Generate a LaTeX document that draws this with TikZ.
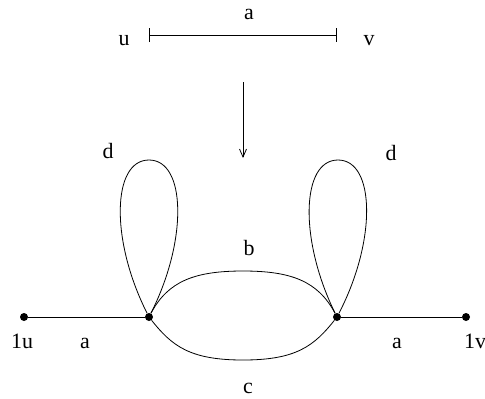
\documentclass[tikz,border=0pt]{standalone}
\usepackage{fontspec}
\setmainfont{Liberation Serif}
\usetikzlibrary{arrows.meta, positioning}

\begin{document}
\begin{tikzpicture}[x=1bp, y=-1bp,
        lbl/.style={anchor=base, inner sep=0pt, font=\fontsize{22}{26}\selectfont},
        vert/.style={circle, fill=black, inner sep=0pt, minimum size=8bp},
        edge/.style={line width=0.8bp},
        barend/.style={{Bar[width=14bp]}-{Bar[width=14bp]}, line width=0.8bp},
        arrow/.style={-{Straight Barb[length=8bp, width=7bp]}, line width=0.8bp}
    ]
        \useasboundingbox (0,0) rectangle (485,398);

        % Single edge (top)
        \coordinate (su) at (149, 35);
        \coordinate (sv) at (337, 35);
        \draw[barend] (su) -- (sv);
        \node[lbl] (lu) at (124, 45) {u};
        \node[lbl] (lv) at (369, 45) {v};
        \node[lbl] (ltop) at (249, 19) {a};

        % Map down
        \coordinate (arrs) at (243, 82);
        \coordinate (arre) at (243, 158);
        \draw[arrow] (arrs) -- (arre);

        % Vertices of the graph (bottom)
        \node[vert] (e1) at (24, 317) {};
        \node[vert] (vl) at (149, 317) {};
        \node[vert] (vr) at (337, 317) {};
        \node[vert] (e2) at (466, 317) {};
        \coordinate (tl) at (149, 160);
        \coordinate (tr) at (338, 160);

        % Straight edges
        \draw[edge] (e1) -- (vl);
        \draw[edge] (vr) -- (e2);

        % Double edge b and c
        \draw[edge] (vl) .. controls (168,281) and (195,271) .. (243,271)
                         .. controls (291,271) and (318,281) .. (vr);
        \draw[edge] (vl) .. controls (172,346) and (190,360) .. (243,360)
                         .. controls (296,360) and (314,346) .. (vr);

        % Loops d
        \draw[edge] (vl) .. controls (110,240) and (112,160) .. (tl)
                         .. controls (186,160) and (188,240) .. (vl);
        \draw[edge] (vr) .. controls (299,240) and (301,160) .. (tr)
                         .. controls (375,160) and (377,240) .. (vr);

        % Labels
        \node[lbl] (l1u) at (22, 348) {1u};
        \node[lbl] (la1) at (85, 348) {a};
        \node[lbl] (la2) at (397, 348) {a};
        \node[lbl] (l1v) at (475, 348) {1v};
        \node[lbl] (lb) at (249, 255) {b};
        \node[lbl] (lc) at (248, 393) {c};
        \node[lbl] (ld1) at (108, 158) {d};
        \node[lbl] (ld2) at (391, 160) {d};

    \end{tikzpicture}
\end{document}
